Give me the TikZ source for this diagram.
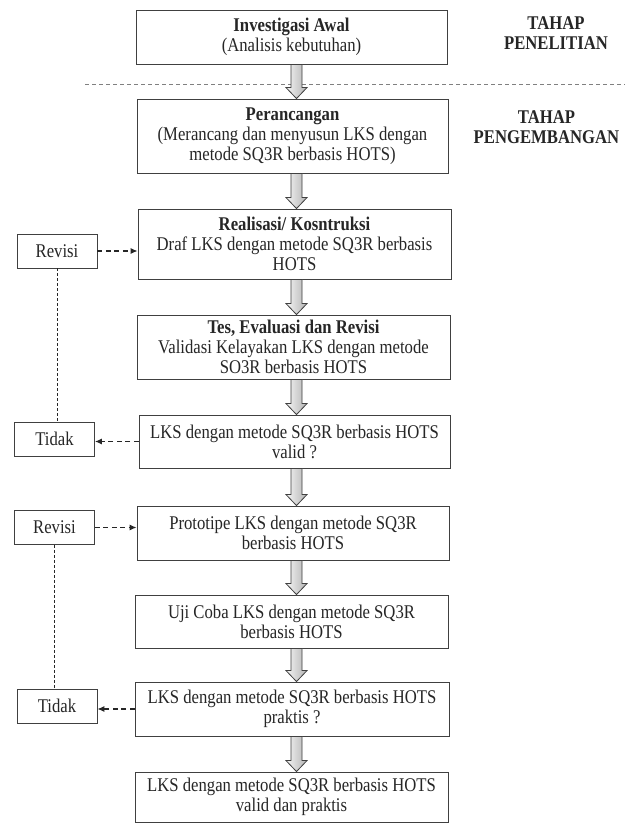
\documentclass[tikz,border=0pt]{standalone}
\usepackage{fontspec}
\setmainfont{Liberation Serif}[FakeStretch=0.86]
\usetikzlibrary{arrows.meta,calc}
\tikzset{
  box/.style={draw=black!75, line width=0.9pt, fill=white, align=center, inner sep=0pt,
    minimum width=312pt, font=\fontsize{19.4}{20}\selectfont, text=black!85},
  smallbox/.style={draw=black!75, line width=0.9pt, fill=white, inner sep=0pt,
    minimum width=80pt, minimum height=34pt, font=\fontsize{19.4}{20}\selectfont, text=black!85},
  stagelabel/.style={align=center, inner sep=0pt, font=\bfseries\fontsize{19.4}{20}\selectfont, text=black!85},
  dasharrow/.style={draw=black!85, line width=1.1pt, dash pattern=on 5pt off 3.5pt,
    -{Latex[length=7pt,width=6pt]}},
  dotline/.style={draw=black!85, line width=0.8pt, dash pattern=on 3pt off 2pt},
  sepline/.style={draw=black!50, line width=0.8pt, dash pattern=on 4pt off 3pt},
  blockarrow/.style={draw=black!75, line width=0.8pt, left color=gray!8, right color=gray!60},
}
\newcommand\blockarr[2]{%
  \path[blockarrow] let \p1=(#1.south), \p2=(#2.north) in
    (291pt,\y1) -- (302pt,\y1) -- (302pt,\y2+11pt) -- (307pt,\y2+11pt) -- (296.5pt,\y2)
    -- (286pt,\y2+11pt) -- (291pt,\y2+11pt) -- cycle;}
\begin{document}
\begin{tikzpicture}[x=1pt,y=-1pt]
\useasboundingbox (0,0) rectangle (625,823);
\fill[white] (0,0) rectangle (625,823);

% separator
\coordinate (sepL) at (85,84);
\coordinate (sepR) at (625,84);
\draw[sepline] (sepL) -- (sepR);

% main boxes
\node[box, minimum height=54pt, minimum width=311pt] (b1) at (291.5,37) {\textbf{Investigasi Awal}\\(Analisis kebutuhan)};
\node[box, minimum height=74pt, minimum width=311pt] (b2) at (292.5,136) {\textbf{Perancangan}\\(Merancang dan menyusun LKS dengan\\metode SQ3R berbasis HOTS)};
\node[box, minimum height=70pt, minimum width=313pt] (b3) at (294.5,244) {\textbf{Realisasi/ Kosntruksi}\\Draf LKS dengan metode SQ3R berbasis\\HOTS};
\node[box, minimum height=64pt, minimum width=313pt] (b4) at (293.5,347) {\textbf{Tes, Evaluasi dan Revisi}\\Validasi Kelayakan LKS dengan metode\\SO3R berbasis HOTS};
\node[box, minimum height=53pt, minimum width=311pt] (b5) at (294.5,441.5) {LKS dengan metode SQ3R berbasis HOTS\\valid ?};
\node[box, minimum height=54pt, minimum width=312pt] (b6) at (293,533) {Prototipe LKS dengan metode SQ3R\\berbasis HOTS};
\node[box, minimum height=53pt, minimum width=313pt] (b7) at (291.5,621.5) {Uji Coba LKS dengan metode SQ3R\\berbasis HOTS};
\node[box, minimum height=54pt, minimum width=314pt] (b8) at (292,709) {LKS dengan metode SQ3R berbasis HOTS\\praktis ?};
\node[box, minimum height=50pt, minimum width=313pt] (b9) at (291.5,797) {LKS dengan metode SQ3R berbasis HOTS\\valid dan praktis};

% stage labels
\node[stagelabel] (tp1) at (556,32.7) {TAHAP\\PENELITIAN};
\node[stagelabel] (tp2) at (546.5,126.7) {TAHAP\\PENGEMBANGAN};

% side boxes
\node[smallbox] (r1) at (57,251) {Revisi};
\node[smallbox] (t1) at (54.5,439) {Tidak};
\node[smallbox] (r2) at (54.5,527.5) {Revisi};
\node[smallbox] (t2) at (57,706) {Tidak};

% block arrows
\blockarr{b1}{b2}
\blockarr{b2}{b3}
\blockarr{b3}{b4}
\blockarr{b4}{b5}
\blockarr{b5}{b6}
\blockarr{b6}{b7}
\blockarr{b7}{b8}
\blockarr{b8}{b9}

% dashed arrows
\draw[dasharrow] (r1.east) -- (r1.east -| b3.west);
\draw[dasharrow] (b5.west) -- (b5.west -| t1.east);
\draw[dasharrow] (r2.east) -- (r2.east -| b6.west);
\draw[dasharrow] (b8.west) -- (b8.west -| t2.east);

% dotted feedback lines
\draw[dotline] (r1.south) -- (r1.south |- t1.north);
\draw[dotline] (r2.south) -- (r2.south |- t2.north);
\end{tikzpicture}
\end{document}
